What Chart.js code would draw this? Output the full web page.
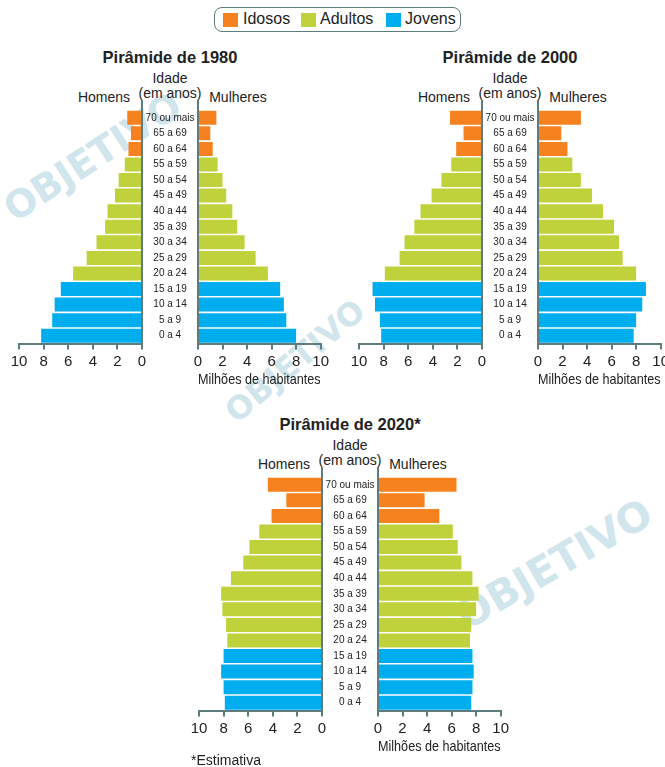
<!DOCTYPE html>
<html lang="pt-BR">
<head>
<meta charset="utf-8">
<title>Pirâmides etárias</title>
<script src="https://cdn.jsdelivr.net/npm/chart.js@4"></script>
<style>
  html, body { margin: 0; padding: 0; background: #fff; }
  body { width: 665px; height: 767px; position: relative; overflow: hidden;
         font-family: "Liberation Sans", Arial, sans-serif; color: #222; }
  .txt { position: absolute; transform: translate(-50%, -50%); white-space: nowrap; font-size: 14px; }
  .titulo { font-weight: bold; font-size: 16.5px; }
  .marca { position: absolute; font-family: "DejaVu Sans", sans-serif; font-weight: bold; color: #d0e5ec;
           white-space: nowrap; transform-origin: 0 100%; line-height: 1; }
  canvas { position: absolute; }
  #legenda { position: absolute; left: 214px; top: 7px; width: 245px; height: 23px; background: #fff;
             border: 1.5px solid #5e7c7d; border-radius: 8px; font-size: 16px; }
  #legenda span.sw { position: absolute; top: 5px; width: 15px; height: 14px; }
  #legenda span.lb { position: absolute; top: 2px; }
</style>
</head>
<body>
<div class="marca" style="left:18px;top:190px;font-size:38px;transform:rotate(-33deg)">OBJETIVO</div>
<div class="marca" style="left:240px;top:396px;font-size:32px;transform:rotate(-40deg)">OBJETIVO</div>
<div class="marca" style="left:470px;top:596px;font-size:41px;transform:rotate(-30deg)">OBJETIVO</div>
<div id="legenda"></div>

<script>
const faixas = ["70 ou mais", "65 a 69", "60 a 64", "55 a 59", "50 a 54", "45 a 49", "40 a 44",
  "35 a 39", "30 a 34", "25 a 29", "20 a 24", "15 a 19", "10 a 14", "5 a 9", "0 a 4"];
const grupos = ["Idosos", "Idosos", "Idosos", "Adultos", "Adultos", "Adultos", "Adultos",
  "Adultos", "Adultos", "Adultos", "Adultos", "Jovens", "Jovens", "Jovens", "Jovens"];
const nomesGrupos = ["Idosos", "Adultos", "Jovens"];
const coresGrupos = ["#f5821f", "#bfd23c", "#00adef"];

// milhões de habitantes, de "70 ou mais" até "0 a 4"
const homens1980 = [1.2, 0.9, 1.1, 1.4, 1.9, 2.2, 2.8, 3.0, 3.7, 4.5, 5.6, 6.6, 7.1, 7.3, 8.2];
const mulheres1980 = [1.5, 1.0, 1.2, 1.6, 2.0, 2.3, 2.8, 3.2, 3.8, 4.7, 5.7, 6.7, 7.0, 7.2, 8.0];
const homens2000 = [2.6, 1.5, 2.1, 2.5, 3.3, 4.1, 5.0, 5.5, 6.3, 6.7, 7.9, 8.9, 8.7, 8.3, 8.2];
const mulheres2000 = [3.5, 1.9, 2.4, 2.8, 3.5, 4.4, 5.3, 6.2, 6.6, 6.9, 8.0, 8.8, 8.5, 8.0, 7.8];
const homens2020 = [4.4, 2.9, 4.1, 5.1, 5.9, 6.4, 7.4, 8.2, 8.1, 7.8, 7.7, 8.0, 8.2, 8.0, 7.9];
const mulheres2020 = [6.4, 3.8, 5.0, 6.1, 6.5, 6.8, 7.7, 8.2, 8.0, 7.6, 7.5, 7.7, 7.8, 7.7, 7.6];
const ticksX = [0, 2, 4, 6, 8, 10];

const corEixo = "#5e7c7d";
const fonte = "'Liberation Sans', Arial, sans-serif";
const coresBarras = grupos.map(g => coresGrupos[nomesGrupos.indexOf(g)]);

// legenda
const legenda = document.getElementById("legenda");
const posLeg = [[8, 28], [86, 105], [171, 190]];
nomesGrupos.forEach((g, i) => {
  legenda.innerHTML += `<span class="sw" style="left:${posLeg[i][0]}px;background:${coresGrupos[i]}"></span>` +
    `<span class="lb" style="left:${posLeg[i][1]}px">${g}</span>`;
});

function texto(x, y, t, cls) {
  const d = document.createElement("div");
  d.className = "txt" + (cls ? " " + cls : "");
  d.style.left = x + "px";
  d.style.top = y + "px";
  d.textContent = t;
  document.body.appendChild(d);
}

// prolonga a linha do eixo vertical acima da primeira barra
const linhaTopo = {
  id: "linhaTopo",
  afterDraw(chart) {
    const s = chart.scales.y;
    const x = s.position === "right" ? s.left : s.right;
    const ctx = chart.ctx;
    ctx.save();
    ctx.strokeStyle = corEixo;
    ctx.lineWidth = 2;
    ctx.beginPath();
    ctx.moveTo(x, chart.chartArea.top - 10);
    ctx.lineTo(x, chart.chartArea.top + 1);
    ctx.stroke();
    ctx.restore();
  }
};

function criarCanvas(left, top, w, h) {
  const c = document.createElement("canvas");
  c.style.left = left + "px";
  c.style.top = top + "px";
  c.style.width = w + "px";
  c.style.height = h + "px";
  c.width = w;
  c.height = h;
  document.body.appendChild(c);
  return c;
}

function eixoX(reverso, comTitulo) {
  return {
    type: "linear",
    reverse: reverso,
    min: 0,
    max: 10,
    afterBuildTicks: (s) => { s.ticks = ticksX.map(v => ({ value: v })); },
    afterFit: (s) => { s.height = 46.5; },
    grid: { display: true, drawOnChartArea: false, drawTicks: true, tickLength: 6, color: corEixo, lineWidth: 2 },
    border: { display: true, color: corEixo, width: 2 },
    ticks: { color: "#222", padding: 3, font: { family: fonte, size: 15 } },
    title: {
      display: comTitulo,
      text: "Milhões de habitantes",
      color: "#222",
      font: { family: fonte, size: 15 },
      padding: { top: 0, bottom: 1 }
    }
  };
}

function piramide(ox, oy, titulo, homens, mulheres) {
  texto(ox + 170, oy + 57, titulo, "titulo");
  texto(ox + 170, oy + 78, "Idade");
  texto(ox + 170, oy + 93, "(em anos)");
  texto(ox + 104, oy + 97, "Homens");
  texto(ox + 238, oy + 97, "Mulheres");

  const base = {
    indexAxis: "y",
    responsive: false,
    animation: false,
    events: [],
    plugins: { legend: { display: false }, tooltip: { enabled: false } }
  };

  new Chart(criarCanvas(ox, oy + 100, 150, 290), {
    type: "bar",
    data: {
      labels: faixas,
      datasets: [{ data: homens, backgroundColor: coresBarras, borderWidth: 0, barPercentage: 0.9, categoryPercentage: 1 }]
    },
    options: Object.assign({}, base, {
      layout: { padding: { left: 19, right: 8, top: 10, bottom: 0 } },
      scales: {
        x: eixoX(true, false),
        y: {
          position: "right",
          afterFit: (s) => { s.width = 0; },
          grid: { display: true, drawOnChartArea: false, drawTicks: false, color: corEixo },
          border: { display: true, color: corEixo, width: 2 },
          ticks: { display: false }
        }
      }
    }),
    plugins: [linhaTopo]
  });

  new Chart(criarCanvas(ox + 142, oy + 100, 190, 290), {
    type: "bar",
    data: {
      labels: faixas,
      datasets: [{ data: mulheres, backgroundColor: coresBarras, borderWidth: 0, barPercentage: 0.9, categoryPercentage: 1 }]
    },
    options: Object.assign({}, base, {
      layout: { padding: { left: 0, right: 11.3, top: 10, bottom: 0 } },
      scales: {
        x: eixoX(false, true),
        y: {
          position: "left",
          afterFit: (s) => { s.width = 56; },
          grid: { display: true, drawOnChartArea: false, drawTicks: false, color: corEixo },
          border: { display: true, color: corEixo, width: 2 },
          ticks: { autoSkip: false, crossAlign: "center", padding: 3.5, color: "#222", font: { family: fonte, size: 10 } }
        }
      }
    }),
    plugins: [linhaTopo]
  });
}

piramide(0, 0, "Pirâmide de 1980", homens1980, mulheres1980);
piramide(340, 0, "Pirâmide de 2000", homens2000, mulheres2000);
piramide(180, 367, "Pirâmide de 2020*", homens2020, mulheres2020);
texto(226, 760, "*Estimativa");
</script>
</body>
</html>
